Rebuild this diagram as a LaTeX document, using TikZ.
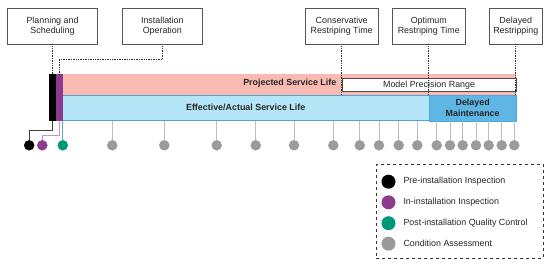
\documentclass[tikz,border=0pt]{standalone}
\usepackage{fontspec}
\setmainfont{Liberation Sans}
\setsansfont{Liberation Sans}
\definecolor{pinkband}{HTML}{F9BAB1}
\definecolor{blueband}{HTML}{B4E6F7}
\definecolor{bluedark}{HTML}{5EB6E4}
\definecolor{blueline}{HTML}{4DA6DA}
\definecolor{purp}{HTML}{8E3A8E}
\definecolor{purpline}{HTML}{D58FCF}
\definecolor{tealc}{HTML}{00977B}
\definecolor{grayc}{HTML}{9B9B9B}
\definecolor{stemc}{HTML}{BDBDBD}
\definecolor{boxline}{HTML}{555555}
\begin{document}
\begin{tikzpicture}[x=1pt,y=-1pt,
  txt/.style={font=\fontsize{8.9}{10.7}\selectfont, text=black!85},
  topbox/.style={draw=boxline, line width=0.8pt, fill=white, align=center, inner sep=0pt, txt},
  dotl/.style={densely dotted, line width=0.7pt, draw=black!80},
  dot/.style={circle, inner sep=0pt, minimum size=10.5pt},
  stem/.style={draw=stemc, line width=0.9pt},
  lgdot/.style={circle, inner sep=0pt, minimum size=14pt},
  lgtxt/.style={anchor=west, inner sep=0pt, txt},
  boldtxt/.style={font=\fontsize{8.9}{10.7}\selectfont\bfseries, text=black!85}]
\useasboundingbox (0,0) rectangle (550,265);

% top boxes
\node[topbox, minimum width=90.4pt, minimum height=35.7pt] (plan) at (52.5,26.2) {Planning and\\Scheduling};
\node[topbox, minimum width=80pt, minimum height=35.7pt] (inst) at (162.3,26.2) {Installation\\Operation};
\node[topbox, minimum width=73.3pt, minimum height=35.7pt] (cons) at (341.7,26.2) {Conservative\\Restriping Time};
\node[topbox, minimum width=73pt, minimum height=35.7pt] (opt) at (428.8,26.2) {Optimum\\Restriping Time};
\node[topbox, minimum width=53.7pt, minimum height=35.7pt] (del) at (515.8,26.2) {Delayed\\Restripping};

% bands
\fill[pinkband] (62.5,74.3) rectangle (515.7,95);
\fill[blueband] (62.5,95) rectangle (515.7,120.7);
\draw[blueline, line width=0.6pt] (62.5,95) -- (515.7,95);
\draw[blueline, line width=0.6pt] (62.5,120.7) -- (515.7,120.7);
\node[draw=blueline, line width=0.6pt, fill=bluedark, minimum width=86.7pt, minimum height=25.7pt, inner sep=0pt, anchor=north west, align=center, boldtxt] (dm) at (429,95) {Delayed\\Maintenance};
\node[draw=black!70, line width=0.8pt, fill=white, minimum width=174pt, minimum height=12.3pt, inner sep=0pt, anchor=north west, txt] (mpr) at (341.7,78.4) {Model Precision Range};
\node[anchor=east, inner sep=0pt, boldtxt] (psl) at (336.5,83.5) {Projected Service Life};
\node[inner sep=0pt, boldtxt] (esl) at (245.7,107.5) {Effective/Actual Service Life};

% bars
\fill[black] (49,74.3) rectangle (55.7,120.7);
\fill[purp] (55.7,74.3) rectangle (62.5,120.7);
\coordinate (blacktop) at (52.5,74.3);
\coordinate (purptop) at (59.2,74.3);

% dotted connectors
\draw[dotl] (plan.south) -- (blacktop);
\draw[dotl] (inst.south) |- (59.2,59.3) -- (purptop);
\coordinate (ct) at (341.7,95);
\coordinate (ot) at (428.8,95);
\coordinate (dt) at (515.8,95);
\draw[dotl] (cons.south) -- (ct);
\draw[dotl] (opt.south) -- (ot);
\draw[dotl] (del.south) -- (dt);

% inspection dots
\node[dot, fill=black] (d1) at (29.2,145.3) {};
\node[dot, fill=purp] (d2) at (42.3,145.3) {};
\node[dot, fill=tealc] (d3) at (62.8,145.3) {};
\coordinate (b1) at (52.3,120.7);
\coordinate (b2) at (59,120.7);
\coordinate (b3) at (62.8,120.7);
\draw[black!75, line width=0.9pt] (b1) -- (52.3,130.7) -| (d1.north);
\draw[purpline, line width=0.9pt] (b2) -- (59,135.7) -| (d2.north);
\draw[tealc!70, line width=0.8pt] (b3) -- (d3.north);

% condition assessment dots
\foreach \i/\x in {1/112.3,2/164.3,3/216.7,4/255.7,5/294,6/333.3,7/359.7,8/379,9/398.7,10/417.3,11/436.7,12/450,13/462.7,14/476,15/488.7,16/501.7,17/514.3}{
  \node[dot, fill=grayc] (c\i) at (\x,145.3) {};
  \coordinate (s\i) at (\x,120.7);
  \draw[stem] (s\i) -- (c\i.north);
}

% legend
\node[draw=black!80, dashed, line width=0.8pt, minimum width=167pt, minimum height=93.7pt, inner sep=0pt, anchor=north west] (lg) at (375.7,164) {};
\node[lgdot, fill=black] (l1) at (388.5,181.7) {};
\node[lgdot, fill=purp] (l2) at (388.5,202.3) {};
\node[lgdot, fill=tealc] (l3) at (388.5,223.2) {};
\node[lgdot, fill=grayc] (l4) at (388.5,243.7) {};
\node[lgtxt] (t1) at (403.3,181.2) {Pre-installation Inspection};
\node[lgtxt] (t2) at (403.3,202) {In-installation Inspection};
\node[lgtxt] (t3) at (403.3,222.7) {Post-installation Quality Control};
\node[lgtxt] (t4) at (403.3,243.2) {Condition Assessment};
\end{tikzpicture}
\end{document}
